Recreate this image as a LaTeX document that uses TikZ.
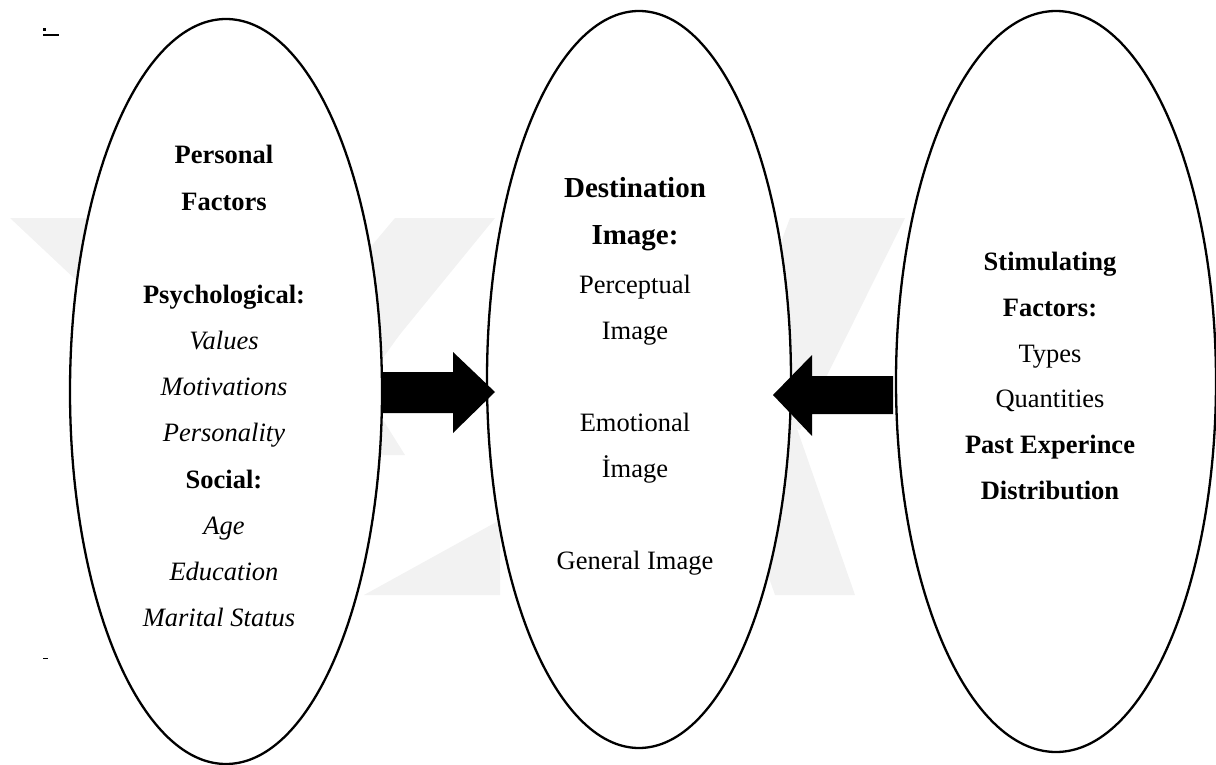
\documentclass[tikz,border=0pt]{standalone}
\usepackage{fontspec}
\setmainfont{Liberation Serif}
\usetikzlibrary{shapes.geometric}
\begin{document}
\begin{tikzpicture}[x=1pt,y=-1pt,
  oval/.style={draw, line width=2.3pt, fill=white, ellipse, inner sep=0pt},
  txt/.style={anchor=base, inner sep=0pt, font=\fontsize{26.5}{30}\selectfont},
  bold/.style={txt, font=\fontsize{26.5}{30}\selectfont\bfseries},
  ital/.style={txt, font=\fontsize{26.5}{30}\selectfont\itshape},
  bigtxt/.style={anchor=base, inner sep=0pt, font=\fontsize{29}{33}\selectfont\bfseries},
  wmark/.style={fill=black!5, draw=none},
  blockarrow/.style={fill=black, draw=none},
  tick/.style={line width=1.3pt}
]
\useasboundingbox (0,0) rectangle (1216,765);

% faint background emblem
\fill[wmark] (10,218) -- (115,218) -- (330,420) -- (225,420) -- cycle;
\fill[wmark] (395,218) -- (495,218) -- (330,420) -- (225,420) -- cycle;
\fill[wmark] (500,520) -- (500,595) -- (364,595) -- cycle;
\fill[wmark] (905,218) -- (790,218) -- (720,405) -- (800,430) -- cycle;
\fill[wmark] (700,380) -- (780,380) -- (855,595) -- (775,595) -- cycle;
\fill[wmark] (378,320) -- (410,320) -- (378,365) -- cycle;
\fill[wmark] (378,412) -- (405,455) -- (378,455) -- cycle;

% small stray marks in the margin
\fill (43,28.5) rectangle (46,31.5);
\draw[tick] (43,35) -- (59,35);
\draw[tick] (43,658.5) -- (48,658.5);

% the three ovals
\node[oval, minimum width=312pt, minimum height=745pt] (L) at (226,391.5) {};
\node[oval, minimum width=304pt, minimum height=737pt] (M) at (639,379.5) {};
\node[oval, minimum width=320pt, minimum height=741pt] (R) at (1056,381.5) {};

% block arrows pointing into the middle oval
\fill[blockarrow] (382,372) -- (453,372) -- (453,352) -- (495,392) -- (453,433) -- (453,413) -- (382,413) -- cycle;
\fill[blockarrow] (893,376) -- (812,376) -- (812,355) -- (773,395) -- (812,436) -- (812,414) -- (893,414) -- cycle;

% left oval text
\node[bold] (l1) at (224,164) {Personal};
\node[bold] (l2) at (224,210) {Factors};
\node[bold] (l3) at (224,303) {Psychological:};
\node[ital] (l4) at (224,349) {Values};
\node[ital] (l5) at (224,395) {Motivations};
\node[ital] (l6) at (224,441) {Personality};
\node[bold] (l7) at (224,488) {Social:};
\node[ital] (l8) at (224,534) {Age};
\node[ital] (l9) at (224,580) {Education};
\node[ital] (l10) at (219,626) {Marital Status};

% middle oval text
\node[bigtxt] (m1) at (635,197) {Destination};
\node[bigtxt] (m2) at (635,244) {Image:};
\node[txt] (m3) at (635,293) {Perceptual};
\node[txt] (m4) at (635,339) {Image};
\node[txt] (m5) at (635,431) {Emotional};
\node[txt] (m6) at (635,477) {İmage};
\node[txt] (m7) at (635,569) {General Image};

% right oval text
\node[bold] (r1) at (1050,270) {Stimulating};
\node[bold] (r2) at (1050,316) {Factors:};
\node[txt] (r3) at (1050,362) {Types};
\node[txt] (r4) at (1050,407) {Quantities};
\node[bold] (r5) at (1050,453) {Past Experince};
\node[bold] (r6) at (1050,499) {Distribution};
\end{tikzpicture}
\end{document}
